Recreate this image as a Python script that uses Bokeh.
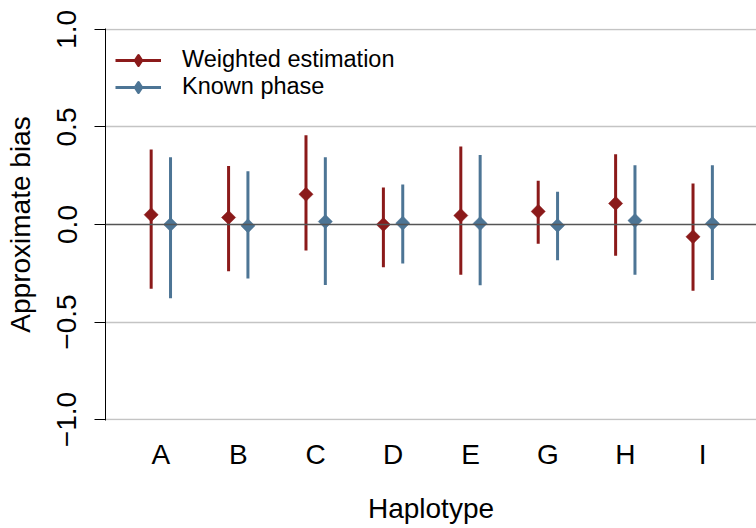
from bokeh.plotting import figure
from bokeh.models import FixedTicker, Span, Legend, LegendItem, CustomJSTickFormatter
from bokeh.embed import file_html
from bokeh.resources import INLINE
import numpy as np

# ---- data ----
categories = ["A", "B", "C", "D", "E", "G", "H", "I"]
weighted_est = [0.05, 0.036, 0.155, 0.0, 0.046, 0.067, 0.108, -0.063]
weighted_lo = [-0.33, -0.24, -0.133, -0.219, -0.258, -0.099, -0.16, -0.34]
weighted_hi = [0.385, 0.30, 0.458, 0.19, 0.40, 0.224, 0.36, 0.21]
known_est = [0.0, -0.007, 0.015, 0.007, 0.005, -0.005, 0.02, 0.005]
known_lo = [-0.378, -0.277, -0.31, -0.2, -0.311, -0.183, -0.258, -0.284]
known_hi = [0.345, 0.273, 0.345, 0.205, 0.357, 0.168, 0.304, 0.304]
y_ticks = [-1.0, -0.5, 0.0, 0.5, 1.0]

RED = "#8B1A1A"
BLUE = "#4D7595"
FONT = "Liberation Sans"
DODGE = 0.125

W, H = 756, 528
BL, BT, BB = 105, 28, 108

pos = np.arange(1, len(categories) + 1)
xr = pos - DODGE
xb = pos + DODGE

p = figure(width=W, height=H, x_range=(0.285, 8.695), y_range=(-1.005, 1.005),
           output_backend="svg", toolbar_location=None,
           min_border_left=BL, min_border_right=0, min_border_top=BT, min_border_bottom=BB)
p.outline_line_color = None
p.background_fill_color = "white"
p.border_fill_color = "white"

# grid
p.xgrid.visible = False
p.ygrid.ticker = FixedTicker(ticks=[t for t in y_ticks if t != 0])
p.ygrid.grid_line_color = "#C4C4C4"
p.ygrid.grid_line_width = 1.3
p.add_layout(Span(location=0, dimension="width", line_color="#555555", line_width=1.6))

# y axis
ya = p.yaxis[0]
ya.ticker = FixedTicker(ticks=y_ticks)
ya.formatter = CustomJSTickFormatter(code="return (tick < 0 ? '\u2212' : '') + Math.abs(tick).toFixed(1);")
ya.major_label_orientation = "vertical"
ya.major_label_text_font = FONT
ya.major_label_text_font_size = "28px"
ya.major_label_text_color = "black"
ya.major_label_standoff = 18
ya.major_tick_out = 11
ya.major_tick_in = 0
ya.minor_tick_line_color = None
ya.axis_line_color = "black"
ya.axis_line_width = 1
ya.major_tick_line_color = "black"
ya.axis_label = "Approximate bias"
ya.axis_label_text_font = FONT
ya.axis_label_text_font_size = "28px"
ya.axis_label_text_font_style = "normal"
ya.axis_label_text_color = "black"
ya.axis_label_standoff = 19

# x axis
xa = p.xaxis[0]
xa.ticker = FixedTicker(ticks=list(pos))
xa.major_label_overrides = {int(i): c for i, c in zip(pos, categories)}
xa.major_label_text_font = FONT
xa.major_label_text_font_size = "28px"
xa.major_label_text_color = "black"
xa.major_label_standoff = 18
xa.major_tick_line_color = None
xa.minor_tick_line_color = None
xa.axis_line_color = None
xa.major_tick_out = 0
xa.major_tick_in = 0
xa.axis_label = "Haplotype"
xa.axis_label_text_font = FONT
xa.axis_label_text_font_size = "28px"
xa.axis_label_text_font_style = "normal"
xa.axis_label_text_color = "black"
xa.axis_label_standoff = 20

# error bars and points
seg_r = p.segment(x0=xr, y0=weighted_lo, x1=xr, y1=weighted_hi, line_color=RED, line_width=3)
pt_r = p.scatter(x=xr, y=weighted_est, marker="square", angle=np.pi / 4, size=10,
                 fill_color=RED, line_color=RED, line_width=0.5)
seg_b = p.segment(x0=xb, y0=known_lo, x1=xb, y1=known_hi, line_color=BLUE, line_width=3)
pt_b = p.scatter(x=xb, y=known_est, marker="square", angle=np.pi / 4, size=10,
                 fill_color=BLUE, line_color=BLUE, line_width=0.5)

# legend-only diamond glyphs (legend markers are drawn unrotated)
lg_r = p.scatter(x=xr, y=weighted_est, marker="diamond", size=10,
                 fill_color=RED, line_color=RED, line_width=2.5, line_join="round", visible=False)
lg_b = p.scatter(x=xb, y=known_est, marker="diamond", size=10,
                 fill_color=BLUE, line_color=BLUE, line_width=2.5, line_join="round", visible=False)

frame_h = H - BT - BB
legend = Legend(items=[
    LegendItem(label="Weighted estimation", renderers=[seg_r, lg_r]),
    LegendItem(label="Known phase", renderers=[seg_b, lg_b]),
], location=(10, frame_h - 72))
legend.border_line_color = None
legend.background_fill_alpha = 0
legend.padding = 10
legend.margin = 0
legend.spacing = 0
legend.glyph_width = 46
legend.glyph_height = 26
legend.label_height = 26
legend.label_standoff = 21
legend.label_text_font = FONT
legend.label_text_font_size = "23.5px"
legend.label_text_color = "black"
legend.label_text_baseline = "middle"
p.add_layout(legend)

open("out.html", "w").write(file_html(p, INLINE))
